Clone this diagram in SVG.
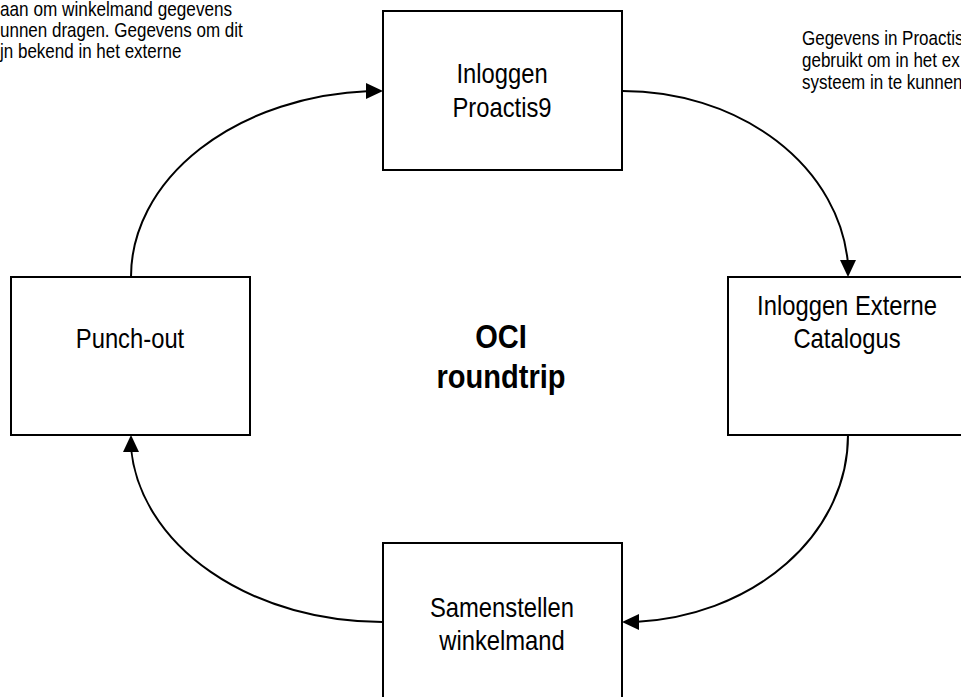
<svg xmlns="http://www.w3.org/2000/svg" width="961" height="697" viewBox="0 0 961 697">
<style>
.box{fill:#fff;stroke:#000;stroke-width:2}
.lbl{font-family:"Liberation Sans Narrow","Liberation Sans",Arial,sans-serif;font-size:28px;fill:#000;text-anchor:middle}
.note{font-family:"Liberation Sans Narrow","Liberation Sans",Arial,sans-serif;font-size:20px;fill:#000}
.title{font-family:"Liberation Sans Narrow","Liberation Sans",Arial,sans-serif;font-size:33px;font-weight:bold;fill:#000;text-anchor:middle}
.conn{fill:none;stroke:#000;stroke-width:2}
.head{fill:#000}
</style>
<rect width="961" height="697" fill="#fff"/>
<g id="note-left">
<text class="note" transform="translate(0,15.5) scale(0.86,1)">aan om winkelmand gegevens</text>
<text class="note" transform="translate(0,36.5) scale(0.85,1)">unnen dragen. Gegevens om dit</text>
<text class="note" transform="translate(0,57.5) scale(0.85,1)">jn bekend in het externe</text>
</g>
<g id="note-right">
<text class="note" transform="translate(802,45) scale(0.85,1)">Gegevens in Proactis</text>
<text class="note" transform="translate(802,67) scale(0.85,1)">gebruikt om in het ex</text>
<text class="note" transform="translate(802,89) scale(0.85,1)">systeem in te kunnen</text>
</g>
<g id="connectors">
<path class="conn" d="M131,277 A252,186 0 0 1 370,91"/>
<path class="head" d="M383,91 L366,83 L366,99 z"/>
<path class="conn" d="M622,91 A226,186 0 0 1 848,264"/>
<path class="head" d="M848,277 L840,260 L856,260 z"/>
<path class="conn" d="M848,435 A226,187 0 0 1 635,622"/>
<path class="head" d="M622,622 L639,614 L639,630 z"/>
<path class="conn" d="M383,622 A252,187 0 0 1 131,448"/>
<path class="head" d="M131,435 L123,452 L139,452 z"/>
</g>
<g id="node-inloggen-proactis">
<rect class="box" x="383" y="11" width="239" height="159"/>
<text class="lbl" transform="translate(502,83) scale(0.85,1)">Inloggen</text>
<text class="lbl" transform="translate(502,117) scale(0.85,1)">Proactis9</text>
</g>
<g id="node-inloggen-externe">
<rect class="box" x="728" y="277" width="239" height="158"/>
<text class="lbl" transform="translate(847,315) scale(0.85,1)">Inloggen Externe</text>
<text class="lbl" transform="translate(847,348) scale(0.85,1)">Catalogus</text>
</g>
<g id="node-samenstellen">
<rect class="box" x="383" y="543" width="239" height="160"/>
<text class="lbl" transform="translate(502,617) scale(0.85,1)">Samenstellen</text>
<text class="lbl" transform="translate(502,650) scale(0.85,1)">winkelmand</text>
</g>
<g id="node-punchout">
<rect class="box" x="11" y="277" width="239" height="158"/>
<text class="lbl" transform="translate(130,348) scale(0.85,1)">Punch-out</text>
</g>
<g id="center-title">
<text class="title" transform="translate(501,348) scale(0.88,1)">OCI</text>
<text class="title" transform="translate(501,388) scale(0.88,1)">roundtrip</text>
</g>
</svg>
